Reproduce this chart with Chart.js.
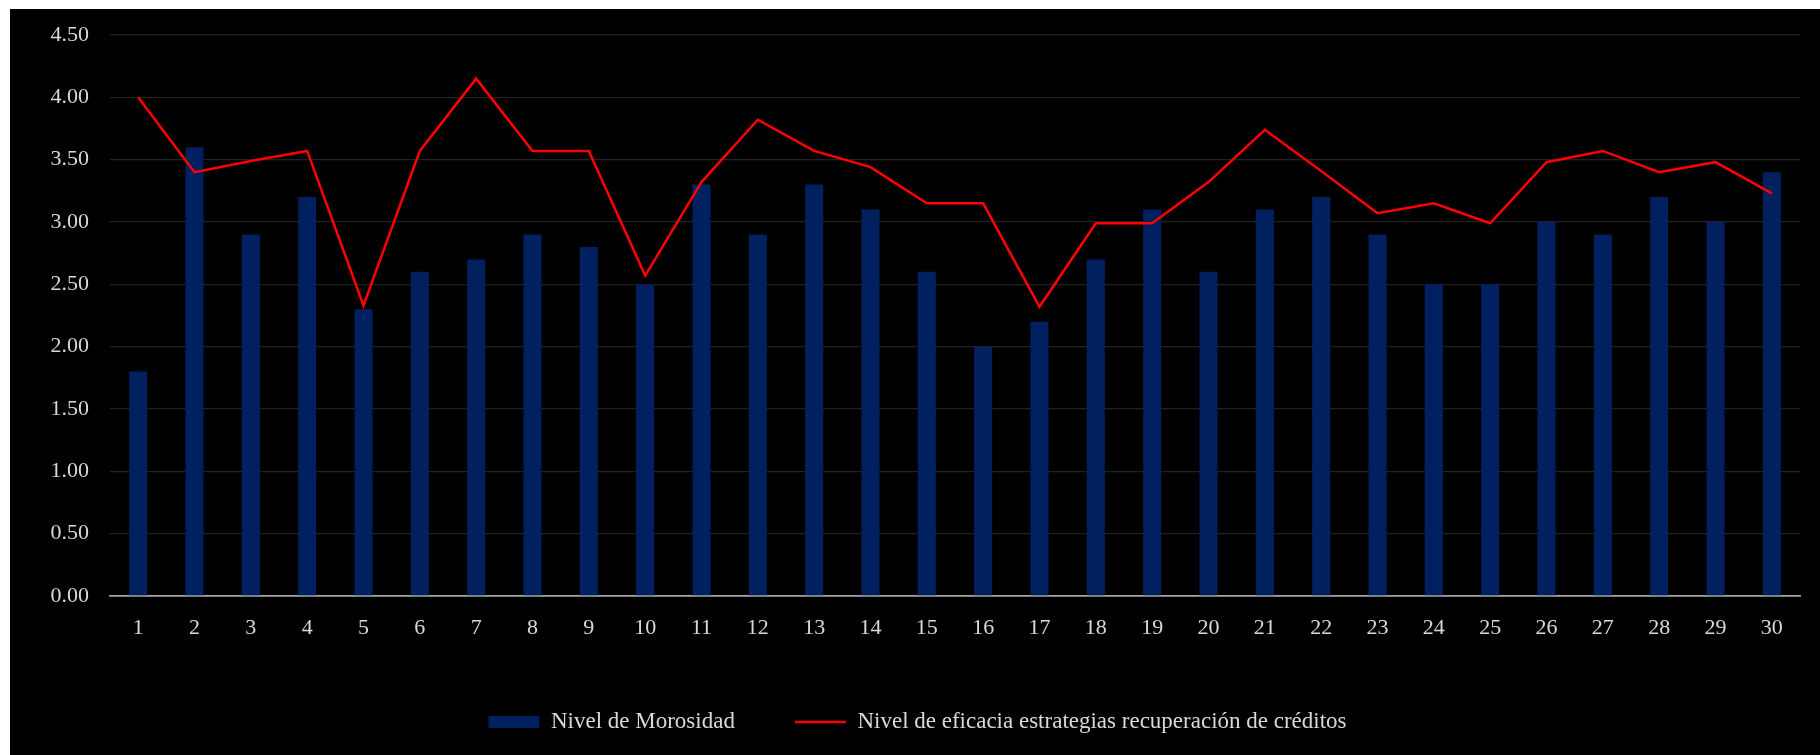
<!DOCTYPE html>
<html>
<head>
<meta charset="utf-8">
<script src="https://cdn.jsdelivr.net/npm/chart.js@4.4.1/dist/chart.umd.min.js"></script>
<style>
    body { margin: 0; background: #fff; }
    #wrap { position: absolute; left: 10px; top: 9px; width: 1810px; height: 746px; background: #000; }
</style>
</head>
<body>
<div id="wrap"><canvas id="grafico"></canvas></div>
<script>
// ------------------ Datos ------------------
const dias = ["1","2","3","4","5","6","7","8","9","10","11","12","13","14","15",
              "16","17","18","19","20","21","22","23","24","25","26","27","28","29","30"];

const morosidad = [1.8, 3.6, 2.9, 3.2, 2.3, 2.6, 2.7, 2.9, 2.8, 2.5,
                   3.3, 2.9, 3.3, 3.1, 2.6, 2.0, 2.2, 2.7, 3.1, 2.6,
                   3.1, 3.2, 2.9, 2.5, 2.5, 3.0, 2.9, 3.2, 3.0, 3.4];

const eficacia = [4.0, 3.4, 3.49, 3.57, 2.33, 3.57, 4.15, 3.57, 3.57, 2.57,
                  3.32, 3.82, 3.57, 3.44, 3.15, 3.15, 2.32, 2.99, 2.99, 3.32,
                  3.74, 3.41, 3.07, 3.15, 2.99, 3.48, 3.57, 3.4, 3.48, 3.23];

const nombres = ["Nivel de Morosidad", "Nivel de eficacia estrategias recuperación de créditos"];

const fuente = "'Liberation Serif', 'DejaVu Serif', serif";

// ------------------ Gráfico ------------------
const ctx = document.getElementById('grafico').getContext('2d');
new Chart(ctx, {
    type: 'bar',
    data: {
        labels: dias,
        datasets: [{
            type: 'bar',
            label: nombres[0],
            data: morosidad,
            backgroundColor: '#002060',
            borderWidth: 0,
            barPercentage: 0.32,
            categoryPercentage: 1,
            pointStyle: 'rect',
            order: 1
        }, {
            type: 'line',
            label: nombres[1],
            data: eficacia,
            borderColor: '#ff0000',
            backgroundColor: '#ff0000',
            borderWidth: 2.5,
            tension: 0,
            pointRadius: 0,
            pointStyle: 'line',
            order: 0
        }]
    },
    options: {
        responsive: true,
        maintainAspectRatio: false,
        animation: false,
        layout: { padding: { left: 25, right: 20, top: 26, bottom: 11.5 } },
        plugins: {
            tooltip: { enabled: false },
            legend: {
                position: 'bottom',
                labels: {
                    color: '#d9d9d9',
                    font: { family: fuente, size: 23 },
                    usePointStyle: true,
                    pointStyleWidth: 51,
                    boxHeight: 12,
                    padding: 60,
                    sort: (a, b) => a.datasetIndex - b.datasetIndex
                }
            }
        },
        scales: {
            x: {
                grid: { display: false, drawTicks: false },
                border: { color: '#a6a6a6', width: 1.5 },
                ticks: { color: '#d9d9d9', font: { family: fuente, size: 22 }, padding: 19 },
                afterFit: s => { s.height = 54.5; }
            },
            y: {
                min: 0,
                max: 4.5,
                grid: {
                    drawTicks: false,
                    color: c => c.tick && c.tick.value === 0 ? '#a6a6a6' : '#222222',
                    lineWidth: c => c.tick && c.tick.value === 0 ? 1.5 : 1.2
                },
                border: { display: false },
                ticks: {
                    stepSize: 0.5,
                    color: '#d9d9d9',
                    font: { family: fuente, size: 22 },
                    padding: 21,
                    callback: v => v.toFixed(2)
                },
                afterFit: s => { s.width = 75; s.paddingTop = 0; s.paddingBottom = 0; }
            }
        }
    }
});
</script>
</body>
</html>
